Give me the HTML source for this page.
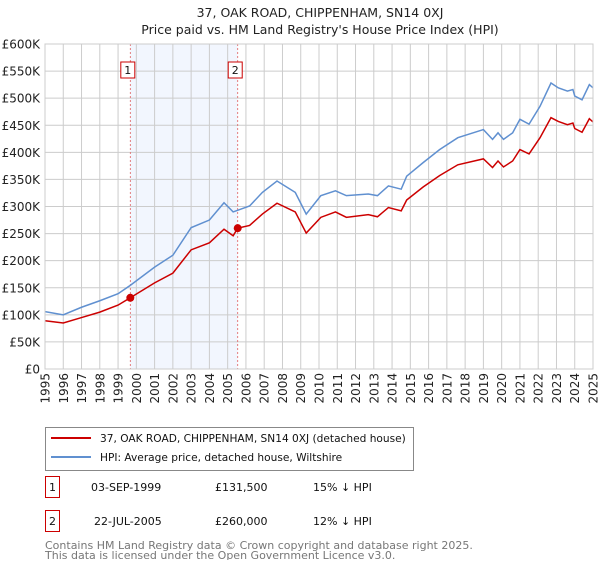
<!DOCTYPE html>
<html><head><meta charset="utf-8"><style>
body{margin:0;background:#fff;font-family:"Liberation Sans","DejaVu Sans",sans-serif;}
svg text{font-family:"DejaVu Sans","Liberation Sans",sans-serif;}
</style></head><body>
<svg id="c" width="600" height="560">
<text x="320" y="17" text-anchor="middle" font-size="12.5" fill="#222">37, OAK ROAD, CHIPPENHAM, SN14 0XJ</text>
<text x="320" y="34" text-anchor="middle" font-size="12.5" fill="#222">Price paid vs. HM Land Registry's House Price Index (HPI)</text>
<g id="plot"></g>
<g>
<rect x="45.5" y="427.5" width="368" height="43" fill="#fff" stroke="#888"/>
<line x1="51" y1="438" x2="91" y2="438" stroke="#cc0000" stroke-width="2"/>
<text x="100" y="442" font-size="10.6" fill="#111">37, OAK ROAD, CHIPPENHAM, SN14 0XJ (detached house)</text>
<line x1="51" y1="457" x2="91" y2="457" stroke="#6090d0" stroke-width="2"/>
<text x="100" y="461" font-size="10.6" fill="#111">HPI: Average price, detached house, Wiltshire</text>
</g>
<g font-size="11" fill="#111">
<rect x="45.5" y="476.5" width="14" height="21" fill="#fff" stroke="#cc0000"/>
<text x="52.5" y="491" text-anchor="middle">1</text>
<text x="91" y="491">03-SEP-1999</text><text x="215" y="491">£131,500</text><text x="313" y="491">15% ↓ HPI</text>
<rect x="45.5" y="510.5" width="14" height="21" fill="#fff" stroke="#cc0000"/>
<text x="52.5" y="525" text-anchor="middle">2</text>
<text x="94" y="525">22-JUL-2005</text><text x="215" y="525">£260,000</text><text x="313" y="525">12% ↓ HPI</text>
</g>
<text x="45" y="549" font-size="11" fill="#777">Contains HM Land Registry data © Crown copyright and database right 2025.</text>
<text x="45" y="559" font-size="11" fill="#777">This data is licensed under the Open Government Licence v3.0.</text>
</svg>
<script>
const hpiYears=[1995,1996,1997,1998,1999,1999.65,2001,2002,2003,2004,2004.8,2005.3,2006.2,2006.9,2007.7,2008.7,2009.3,2010.1,2010.9,2011.5,2012.7,2013.2,2013.8,2014.5,2014.8,2015.7,2016.6,2017.6,2019,2019.5,2019.8,2020.1,2020.6,2021,2021.5,2022.1,2022.7,2023.1,2023.6,2023.9,2024,2024.4,2024.8,2025];
const hpiValues=[106,100,114,126,139,154,188,210,261,275,307,290,301,326,347,326,286,320,329,320,323,320,338,332,356,381,405,427,442,424,436,424,436,461,452,485,528,519,513,516,504,497,525,519];
const priceYears=[1995,1996,1997,1998,1999,1999.67,2001,2002,2003,2004,2004.8,2005.3,2005.55,2006.2,2006.9,2007.7,2008.7,2009.3,2010.1,2010.9,2011.5,2012.7,2013.2,2013.8,2014.5,2014.8,2015.7,2016.6,2017.6,2019,2019.5,2019.8,2020.1,2020.6,2021,2021.5,2022.1,2022.7,2023.1,2023.6,2023.9,2024,2024.4,2024.8,2025];
const priceValues=[89,85,95,105,118,131.5,159,177,220,233,258,246,260,265,286,306,290,251,280,290,280,285,281,298,292,312,336,357,377,388,372,384,373,384,405,397,427,464,457,451,454,444,437,462,456];
const saleYears=[1999.67,2005.55];
const saleValues=[131.5,260];
const saleLabels=["1","2"];
const yTicks=[0,50,100,150,200,250,300,350,400,450,500,550,600];
const yTickLabels=["£0","£50K","£100K","£150K","£200K","£250K","£300K","£350K","£400K","£450K","£500K","£550K","£600K"];
const xTicks=[1995,1996,1997,1998,1999,2000,2001,2002,2003,2004,2005,2006,2007,2008,2009,2010,2011,2012,2013,2014,2015,2016,2017,2018,2019,2020,2021,2022,2023,2024,2025];

const L=45,R=593,T=44,B=369;
const X=y=>L+(y-1995)/30*(R-L);
const Y=v=>B-v/600*(B-T);
const NS="http://www.w3.org/2000/svg";
const g=document.getElementById('plot');
function mk(tag,attrs){const e=document.createElementNS(NS,tag);for(const k in attrs)e.setAttribute(k,attrs[k]);g.appendChild(e);return e;}
let e=mk('rect',{x:X(saleYears[0]),y:T,width:X(saleYears[1])-X(saleYears[0]),height:B-T,fill:'#f2f6fe'});


yTicks.forEach((v,i)=>{
 let l=mk('line',{x1:L,x2:R,y1:Y(v),y2:Y(v),stroke:'#cccccc'});
 
 
 let t=mk('text',{x:40,y:Y(v)+4.5,'text-anchor':'end','font-size':12,fill:'#222'});
 t.textContent=yTickLabels[i];
 
 
});
xTicks.forEach(yr=>{
 let l=mk('line',{x1:X(yr),x2:X(yr),y1:T,y2:B,stroke:'#cccccc'});
 
 
 let t=mk('text',{x:0,y:0,'text-anchor':'end','font-size':12,fill:'#222',transform:`translate(${X(yr)+4.5},373) rotate(-90)`});
 t.textContent=yr;
 
 
});
saleYears.forEach((yr,i)=>{
 let l=mk('line',{x1:X(yr),x2:X(yr),y1:T,y2:B,stroke:'#e06060','stroke-dasharray':'2,2','stroke-width':0.8});
 
 
 let r=mk('rect',{x:X(yr)-9.5,y:62,width:14,height:16,fill:'#fff',stroke:'#cc0000'});
 
 
 let t=mk('text',{x:X(yr)-2.5,y:74,'text-anchor':'middle','font-size':11,fill:'#111'});
 t.textContent=saleLabels[i];
 
 
});
let p=mk('polyline',{points:hpiYears.map((y,i)=>X(y)+','+Y(hpiValues[i])).join(' '),fill:'none',stroke:'#6090d0','stroke-width':1.5});


p=mk('polyline',{points:priceYears.map((y,i)=>X(y)+','+Y(priceValues[i])).join(' '),fill:'none',stroke:'#cc0000','stroke-width':1.5});


saleYears.forEach((yr,i)=>{
 let c=mk('circle',{cx:X(yr),cy:Y(saleValues[i]),r:4,fill:'#cc0000'});
 
 
});
let ax=mk('rect',{x:L,y:T,width:R-L,height:B-T,fill:'none',stroke:'#cccccc'});


</script>
</body></html>
